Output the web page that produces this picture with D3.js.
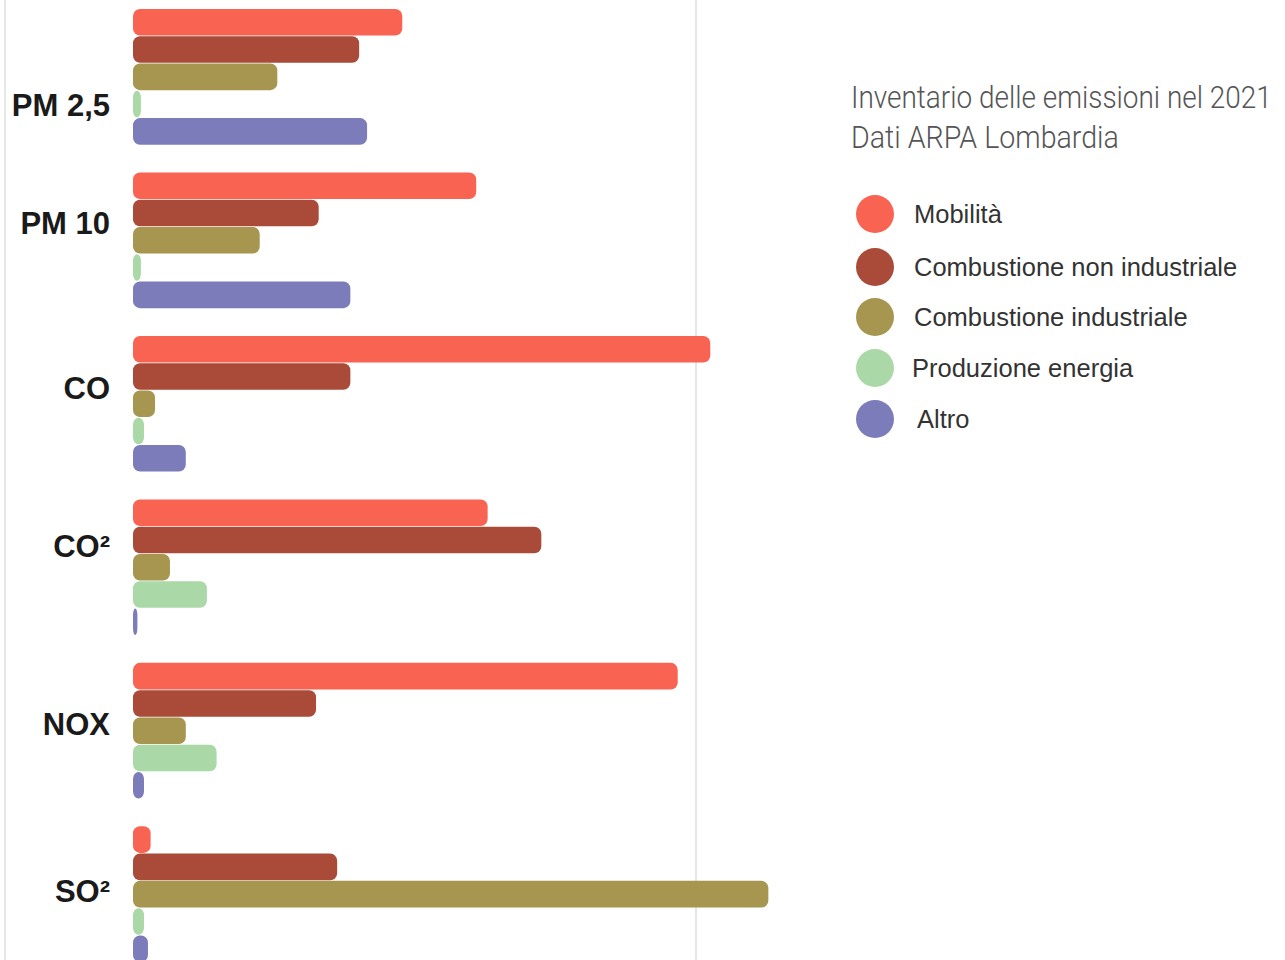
<!DOCTYPE html>
<html>
<head>
<meta charset="utf-8">
<script src="https://cdn.jsdelivr.net/npm/d3@7/dist/d3.min.js"></script>
<style>
  html, body { margin: 0; padding: 0; background: #fff; }
  svg { display: block; }
</style>
</head>
<body>
<svg id="chart" width="1285" height="960"></svg>
<script>
// ---- data (share of each pollutant's emissions, %) ----
const categories = ["PM 2,5", "PM 10", "CO", "CO²", "NOX", "SO²"];
const seriesNames = ["Mobilità", "Combustione non industriale", "Combustione industriale", "Produzione energia", "Altro"];
const mobilita        = [30.6, 39.0, 65.6, 40.3, 61.9, 2.0];
const combNonInd      = [25.7, 21.1, 24.7, 46.4, 20.8, 23.2];
const combInd         = [16.4, 14.4, 2.5, 4.2, 6.0, 72.2];
const produzione      = [0.9, 0.9, 1.25, 8.4, 9.5, 1.25];
const altro           = [26.6, 24.7, 6.0, 0.5, 1.25, 1.7];
const titleLines = ["Inventario delle emissioni nel 2021", "Dati ARPA Lombardia"];

const seriesValues = [mobilita, combNonInd, combInd, produzione, altro];
const colors = ["#f96352", "#aa4b3a", "#a6964f", "#abd8a7", "#7d7cba"];

// ---- layout ----
const svg = d3.select("#chart");
const x = d3.scaleLinear().domain([0, 100]).range([133, 1013]);
const y0 = d3.scaleBand().domain(categories).range([9, 962]).paddingInner(0.17).paddingOuter(0);
const y1 = d3.scaleBand().domain(seriesNames).range([0, y0.bandwidth()]).paddingInner(0.025).paddingOuter(0);
const color = d3.scaleOrdinal().domain(seriesNames).range(colors);

// frame lines
svg.append("line").attr("x1", 5).attr("x2", 5).attr("y1", 0).attr("y2", 960)
  .attr("stroke", "#e6e6e6").attr("stroke-width", 2);
svg.append("line").attr("x1", 696).attr("x2", 696).attr("y1", 0).attr("y2", 960)
  .attr("stroke", "#e6e6e6").attr("stroke-width", 2);

// bars
const rows = categories.map((c, i) => ({
  cat: c,
  values: seriesNames.map((s, j) => ({ series: s, value: seriesValues[j][i] }))
}));

const groups = svg.append("g").selectAll("g").data(rows).join("g")
  .attr("transform", d => `translate(0,${y0(d.cat)})`);

groups.selectAll("rect").data(d => d.values).join("rect")
  .attr("x", x(0))
  .attr("y", d => y1(d.series))
  .attr("width", d => x(d.value) - x(0))
  .attr("height", y1.bandwidth())
  .attr("rx", d => Math.min(7, (x(d.value) - x(0)) / 2))
  .attr("ry", 7)
  .attr("fill", d => color(d.series));

// category labels (vertical placement relative to group top)
const labelDy = [96, 51, 53, 47, 62, 65];
svg.append("g").selectAll("text").data(categories).join("text")
  .attr("x", 110)
  .attr("y", (d, i) => y0(d) + labelDy[i])
  .attr("text-anchor", "end")
  .attr("dominant-baseline", "central")
  .attr("font-family", "'Liberation Sans', Arial, sans-serif")
  .attr("font-weight", "bold")
  .attr("font-size", 31)
  .attr("fill", "#1a1a1a")
  .text(d => d);

// title: measured and horizontally condensed to the reference width
const titleWidths = [421, 268];
const titleG = svg.append("g");
titleG.selectAll("text").data(titleLines).join("text")
  .attr("x", 0)
  .attr("y", 0)
  .attr("font-family", "Roboto, 'Open Sans', sans-serif")
  .attr("font-weight", 300)
  .attr("font-size", 31)
  .attr("fill", "#555")
  .text(d => d)
  .each(function (d, i) {
    const w = this.getComputedTextLength();
    const s = titleWidths[i] / w;
    d3.select(this).attr("transform", `translate(851,${108 + i * 40}) scale(${s},1)`);
  });

// legend
const legendY = [214, 267, 317, 368, 419];
const legendTextX = [39, 39, 39, 37, 42];
const legend = svg.append("g").selectAll("g").data(seriesNames).join("g")
  .attr("transform", (d, i) => `translate(875,${legendY[i]})`);
legend.append("circle").attr("r", 19).attr("fill", d => color(d));
legend.append("text")
  .attr("x", (d, i) => legendTextX[i])
  .attr("dominant-baseline", "central")
  .attr("font-family", "'Liberation Sans', Arial, sans-serif")
  .attr("font-size", 25.5)
  .attr("fill", "#333")
  .text(d => d);
</script>
</body>
</html>
